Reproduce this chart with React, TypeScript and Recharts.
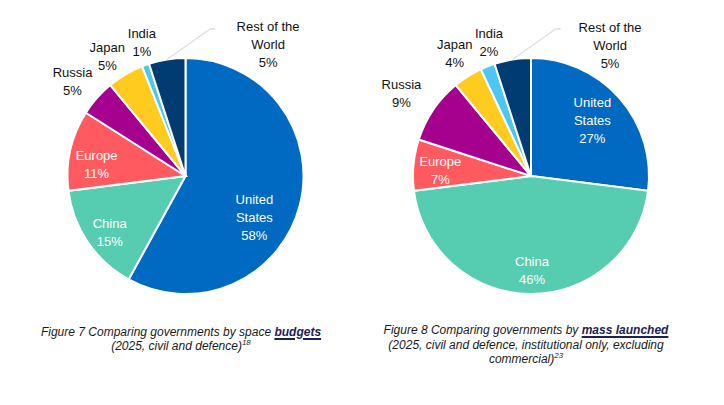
import React from 'react';
import { PieChart, Pie, Cell } from 'recharts';

// categories, in clockwise order from 12 o'clock
const regions = ['United States', 'China', 'Europe', 'Russia', 'Japan', 'India', 'Rest of the World'];
const regionLines = [['United', 'States'], ['China'], ['Europe'], ['Russia'], ['Japan'], ['India'], ['Rest of the', 'World']];

// Figure 7: share of government space budgets (%)
const budgetShare = [58, 15, 11, 5, 5, 1, 5];
// Figure 8: share of mass launched (%)
const massShare = [27, 46, 7, 9, 4, 2, 5];

const COLORS = ['#0069c2', '#56cdb0', '#ff5a5f', '#a5008e', '#ffcb1f', '#4cc7f4', '#003c72'];
const INSIDE = [true, true, true, false, false, false, false];

// label placement: angle shift from slice middle (deg), radius as share of outer radius
const budgetLabels = [
  { shift: -16.5, r: 0.68 },
  { shift: 2.4, r: 0.8 },
  { shift: 4.9, r: 0.76 },
  { shift: 1.4, r: 1.25 },
  { shift: 2.6, r: 1.21 },
  { shift: -1.7, r: 1.19 },
  { shift: -41.2, r: 1.313, leader: { shift: -18.5, r: 1.263 } },
];
const massLabels = [
  { shift: 0.6, r: 0.7 },
  { shift: 0.6, r: 0.8 },
  { shift: 1.6, r: 0.77 },
  { shift: 1.8, r: 1.3 },
  { shift: -0.4, r: 1.22 },
  { shift: -4.2, r: 1.19 },
  { shift: -40.1, r: 1.297, leader: { shift: -18.5, r: 1.263 } },
];

const budgetData = regions.map((name, i) => ({ name, value: budgetShare[i] }));
const massData = regions.map((name, i) => ({ name, value: massShare[i] }));

const LINE_H = 18;
const RAD = Math.PI / 180;
const FONT = '"Liberation Sans", Arial, sans-serif';

const polar = (cx: number, cy: number, r: number, deg: number) => ({
  x: cx + r * Math.cos(-deg * RAD),
  y: cy + r * Math.sin(-deg * RAD),
});

const makeLabel = (layout: any[]) => (props: any) => {
  const { cx, cy, outerRadius, index, value } = props;
  const mid = props.midAngle ?? (props.startAngle + props.endAngle) / 2;
  const spot = layout[index];
  const p = polar(cx, cy, outerRadius * spot.r, mid + spot.shift);
  const lines = [...regionLines[index], `${value}%`];
  const top = p.y - ((lines.length - 1) * LINE_H) / 2;
  let leader = null;
  if (spot.leader) {
    const a = polar(cx, cy, outerRadius, mid);
    const b = polar(cx, cy, outerRadius * spot.leader.r, mid + spot.leader.shift);
    leader = (
      <polyline
        points={`${a.x},${a.y} ${b.x},${b.y} ${b.x + 5},${b.y}`}
        fill="none"
        stroke="#c9cfe6"
        strokeWidth={1}
      />
    );
  }
  return (
    <g key={`lbl-${index}`}>
      {leader}
      <text textAnchor="middle" fill={INSIDE[index] ? '#ffffff' : '#111111'} fontSize={13} fontFamily={FONT}>
        {lines.map((l, i) => (
          <tspan key={i} x={p.x} y={top + i * LINE_H} dy="0.35em">
            {l}
          </tspan>
        ))}
      </text>
    </g>
  );
};

const captionStyle: React.CSSProperties = {
  position: 'absolute',
  width: 340,
  textAlign: 'center',
  fontFamily: FONT,
  fontStyle: 'italic',
  fontSize: 12,
  lineHeight: '14.5px',
  color: '#1a1a1a',
};
const strongStyle: React.CSSProperties = {
  fontWeight: 'bold',
  color: '#1f2150',
  textDecoration: 'underline',
  textDecorationThickness: '1.5px',
  textUnderlineOffset: '2px',
};
const supStyle: React.CSSProperties = { fontSize: 8, position: 'relative', top: -5 };

export default function App() {
  return (
    <div style={{ position: 'absolute', top: 0, left: 0, width: 724, height: 405, background: '#fff' }}>
      <PieChart width={724} height={405} margin={{ top: 0, right: 0, bottom: 0, left: 0 }}>
        <Pie
          data={budgetData}
          dataKey="value"
          nameKey="name"
          cx={185.5}
          cy={176}
          outerRadius={118}
          startAngle={90}
          endAngle={-270}
          stroke="#ffffff"
          strokeWidth={2}
          label={makeLabel(budgetLabels)}
          labelLine={false}
          isAnimationActive={false}
        >
          {budgetData.map((d, i) => (
            <Cell key={d.name} fill={COLORS[i]} />
          ))}
        </Pie>
        <Pie
          data={massData}
          dataKey="value"
          nameKey="name"
          cx={531}
          cy={176}
          outerRadius={118}
          startAngle={90}
          endAngle={-270}
          stroke="#ffffff"
          strokeWidth={2}
          label={makeLabel(massLabels)}
          labelLine={false}
          isAnimationActive={false}
        >
          {massData.map((d, i) => (
            <Cell key={d.name} fill={COLORS[i]} />
          ))}
        </Pie>
      </PieChart>
      <div style={{ ...captionStyle, left: 11, top: 324.5 }}>
        Figure 7 Comparing governments by space <span style={strongStyle}>budgets</span>
        <br />
        (2025, civil and defence)<span style={supStyle}>18</span>
      </div>
      <div style={{ ...captionStyle, left: 356, top: 323 }}>
        Figure 8 Comparing governments by <span style={strongStyle}>mass launched</span>
        <br />
        (2025, civil and defence, institutional only, excluding
        <br />
        commercial)<span style={supStyle}>23</span>
      </div>
    </div>
  );
}
